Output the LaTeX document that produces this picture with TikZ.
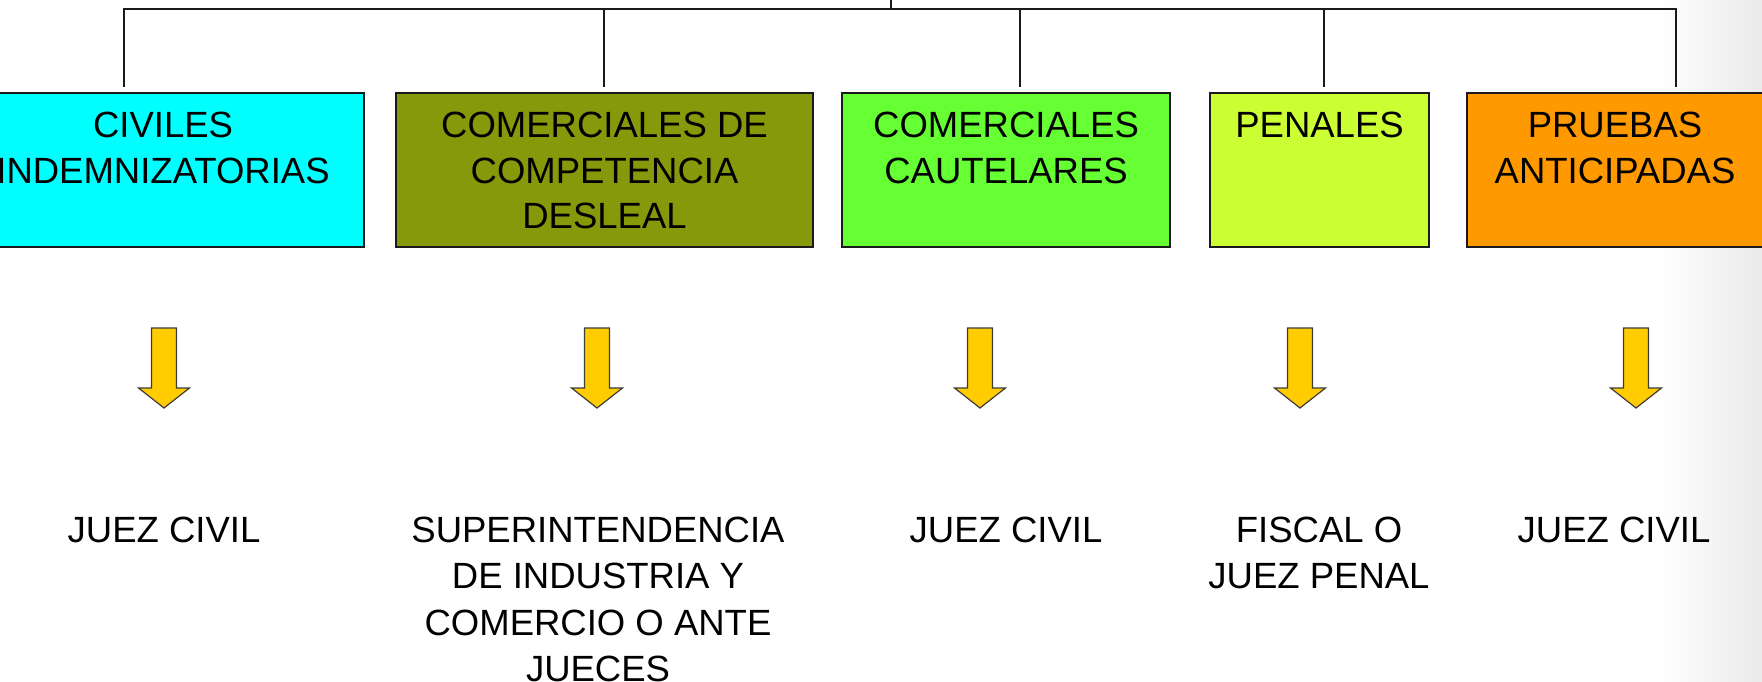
\documentclass[tikz,border=0pt]{standalone}
\usepackage{fontspec}
\setmainfont{Liberation Sans}
\definecolor{cCivil}{HTML}{00FFFF}
\definecolor{cDesleal}{HTML}{86990B}
\definecolor{cCautelar}{HTML}{66FF33}
\definecolor{cPenal}{HTML}{CCFF33}
\definecolor{cPrueba}{HTML}{FF9900}
\definecolor{cArrow}{HTML}{FFCC00}
\definecolor{cArrowLine}{HTML}{3C3C3C}
\definecolor{cLine}{HTML}{1A1A1A}
\tikzset{
  x=1pt, y=-1pt,
  box/.style={draw=cLine, line width=2pt, rectangle, minimum height=154pt, inner sep=0pt},
  boxtext/.style={anchor=north, align=center, inner sep=0pt, font=\fontsize{36.5}{45.5}\selectfont},
  outtext/.style={anchor=north, align=center, inner sep=0pt, font=\fontsize{36.5}{46.5}\selectfont},
  link/.style={draw=cLine, line width=2pt},
  blockarrow/.style={fill=cArrow, draw=cArrowLine, line width=1.2pt, line join=miter},
  downarrow/.pic={\path[blockarrow] (-12.5,0) -- (12.5,0) -- (12.5,60) -- (25.5,60) -- (0,80) -- (-25.5,60) -- (-12.5,60) -- cycle;}
}
\begin{document}
\begin{tikzpicture}
\useasboundingbox (0,0) rectangle (1762,682);
\shade[left color=white, right color=black!8] (1660,0) rectangle (1762,682);

% boxes
\node[box, fill=cCivil,    minimum width=402pt] (box1) at (163,170) {};
\node[box, fill=cDesleal,  minimum width=417pt] (box2) at (604.5,170) {};
\node[box, fill=cCautelar, minimum width=328pt] (box3) at (1006,170) {};
\node[box, fill=cPenal,    minimum width=219pt] (box4) at (1319.5,170) {};
\node[box, fill=cPrueba,   minimum width=298pt] (box5) at (1616,170) {};

\node[boxtext] (t1) at (163,112) {CIVILES\\INDEMNIZATORIAS};
\node[boxtext] (t2) at (604.5,112) {COMERCIALES DE\\COMPETENCIA\\DESLEAL};
\node[boxtext] (t3) at (1006,112) {COMERCIALES\\CAUTELARES};
\node[boxtext] (t4) at (1319.5,112) {PENALES};
\node[boxtext] (t5) at (1615,112) {PRUEBAS\\ANTICIPADAS};

% connectors
\coordinate (root) at (891,0);
\coordinate (bar) at (891,9);
\coordinate (c1) at (124,9);
\coordinate (c2) at (604,9);
\coordinate (c3) at (1020,9);
\coordinate (c4) at (1324,9);
\coordinate (c5) at (1676,9);
\draw[link] (root) -- (bar);
\draw[link, line cap=rect] (c1) -- (c5);
\draw[link] (c1) -- ([yshift=5pt]c1 |- box1.north);
\draw[link] (c2) -- ([yshift=5pt]c2 |- box2.north);
\draw[link] (c3) -- ([yshift=5pt]c3 |- box3.north);
\draw[link] (c4) -- ([yshift=5pt]c4 |- box4.north);
\draw[link] (c5) -- ([yshift=5pt]c5 |- box5.north);

% block arrows
\pic at (164,328) {downarrow};
\pic at (597,328) {downarrow};
\pic at (980,328) {downarrow};
\pic at (1300,328) {downarrow};
\pic at (1636,328) {downarrow};

% results
\node[outtext] (r1) at (164,516.5) {JUEZ CIVIL};
\node[outtext] (r2) at (598,516.5) {SUPERINTENDENCIA\\DE INDUSTRIA Y\\COMERCIO O ANTE\\JUECES};
\node[outtext] (r3) at (1006,516.5) {JUEZ CIVIL};
\node[outtext] (r4) at (1319,516.5) {FISCAL O\\JUEZ PENAL};
\node[outtext] (r5) at (1614,516.5) {JUEZ CIVIL};
\end{tikzpicture}
\end{document}
